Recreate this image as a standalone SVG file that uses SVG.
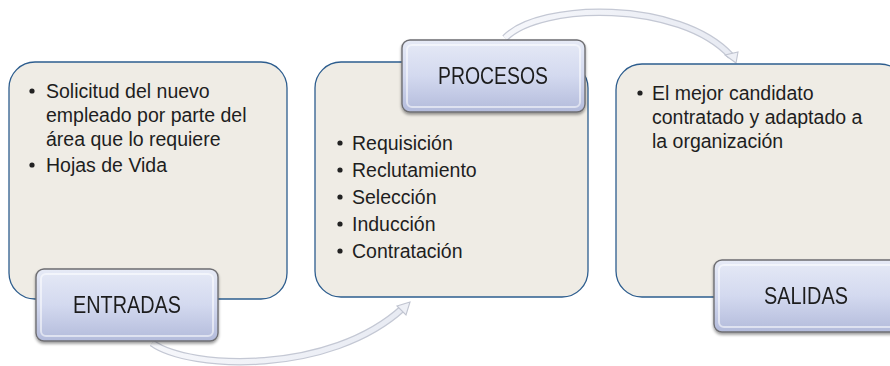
<svg xmlns="http://www.w3.org/2000/svg" width="890" height="366" viewBox="0 0 890 366">
<style>
.box{fill:#efece5;stroke:#2d5d8e;stroke-width:1.3}
.tag{fill:url(#tg);stroke:#6e6e72;stroke-width:1.4}
.hl{fill:none;stroke:#ffffff;stroke-opacity:0.55;stroke-width:2}
.tt{font-family:"Liberation Sans",Arial,sans-serif;font-size:23px;fill:#1e1e1e;text-anchor:middle}
.bt{font-family:"Liberation Sans",Arial,sans-serif;font-size:19.5px;fill:#1e1e1e}
.arr-o{fill:none;stroke:#c4c8d4;stroke-width:7.5}
.arr-i{fill:none;stroke:url(#ag);stroke-width:5}
.head{fill:#eef0f6;stroke:#c0c4d0;stroke-width:1.1}
</style>
<defs>
<linearGradient id="tg" x1="0" y1="0" x2="0" y2="1">
<stop offset="0" stop-color="#e6eaf6"/>
<stop offset="0.5" stop-color="#d3d9ef"/>
<stop offset="1" stop-color="#b3bbdb"/>
</linearGradient>
<linearGradient id="ag" x1="0" y1="0" x2="1" y2="0">
<stop offset="0" stop-color="#f6f7fb"/>
<stop offset="1" stop-color="#e8ebf3"/>
</linearGradient>
<filter id="sh" x="-10%" y="-10%" width="120%" height="140%">
<feGaussianBlur in="SourceAlpha" stdDeviation="1.5"/>
<feOffset dx="0" dy="2" result="b"/>
<feComponentTransfer><feFuncA type="linear" slope="0.4"/></feComponentTransfer>
<feMerge><feMergeNode/><feMergeNode in="SourceGraphic"/></feMerge>
</filter>
</defs>

<g id="connectors">
<path class="arr-o" d="M152,343 C190,370 330,375 403,308"/>
<path class="arr-i" d="M152,343 C190,370 330,375 403,308"/>
<path class="head" d="M410,302 L397,306 L406,315 Z"/>
<path class="arr-o" d="M505,38 C540,2 680,0 731,56"/>
<path class="arr-i" d="M505,38 C540,2 680,0 731,56"/>
<path class="head" d="M736,63 L725,55 L738,52 Z"/>
</g>

<g id="entradas-box">
<rect class="box" x="9" y="62" width="278" height="237" rx="26"/>
<circle cx="32" cy="91" r="2.6" fill="#222"/>
<text class="bt" x="46" y="98">Solicitud del nuevo</text>
<text class="bt" x="46" y="122">empleado por parte del</text>
<text class="bt" x="46" y="146">área que lo requiere</text>
<circle cx="32" cy="165" r="2.6" fill="#222"/>
<text class="bt" x="46" y="172">Hojas de Vida</text>
</g>

<g id="procesos-box">
<rect class="box" x="315" y="62" width="273" height="235" rx="26"/>
<circle cx="340" cy="143" r="2.6" fill="#222"/>
<text class="bt" x="352" y="150">Requisición</text>
<circle cx="340" cy="170" r="2.6" fill="#222"/>
<text class="bt" x="352" y="177">Reclutamiento</text>
<circle cx="340" cy="197" r="2.6" fill="#222"/>
<text class="bt" x="352" y="204">Selección</text>
<circle cx="340" cy="224" r="2.6" fill="#222"/>
<text class="bt" x="352" y="231">Inducción</text>
<circle cx="340" cy="251" r="2.6" fill="#222"/>
<text class="bt" x="352" y="258">Contratación</text>
</g>

<g id="salidas-box">
<rect class="box" x="616" y="64" width="290" height="233" rx="26"/>
<circle cx="640" cy="93" r="2.6" fill="#222"/>
<text class="bt" x="652" y="100">El mejor candidato</text>
<text class="bt" x="652" y="124">contratado y adaptado a</text>
<text class="bt" x="652" y="148">la organización</text>
</g>

<g id="entradas-tag" filter="url(#sh)">
<rect class="tag" x="36" y="269" width="182" height="72" rx="8"/>
<rect class="hl" x="41" y="274" width="172" height="62" rx="5"/>
<text class="tt" x="127" y="313" textLength="108" lengthAdjust="spacingAndGlyphs">ENTRADAS</text>
</g>

<g id="procesos-tag" filter="url(#sh)">
<rect class="tag" x="402" y="40" width="183" height="72" rx="8"/>
<rect class="hl" x="407" y="45" width="173" height="62" rx="5"/>
<text class="tt" x="493" y="84" textLength="110" lengthAdjust="spacingAndGlyphs">PROCESOS</text>
</g>

<g id="salidas-tag" filter="url(#sh)">
<rect class="tag" x="714" y="260" width="190" height="72" rx="8"/>
<rect class="hl" x="719" y="265" width="180" height="62" rx="5"/>
<text class="tt" x="806" y="304" textLength="84" lengthAdjust="spacingAndGlyphs">SALIDAS</text>
</g>
</svg>
